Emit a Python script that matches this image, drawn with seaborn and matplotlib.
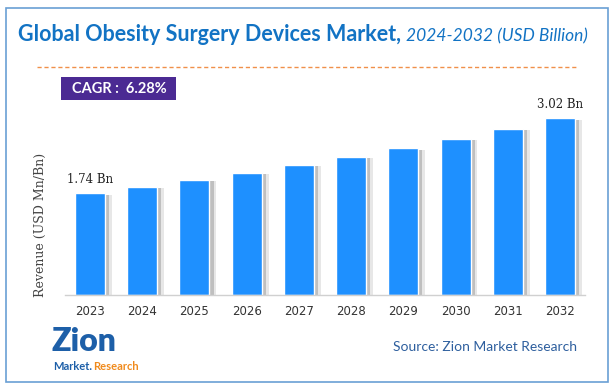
import matplotlib
matplotlib.use("Agg")
import matplotlib.pyplot as plt
import matplotlib.patheffects as pe
from matplotlib.patches import Rectangle
import seaborn as sns
import pandas as pd

years = ["2023", "2024", "2025", "2026", "2027", "2028", "2029", "2030", "2031", "2032"]
revenue = [1.74, 1.85, 1.97, 2.09, 2.23, 2.36, 2.51, 2.67, 2.84, 3.02]
first_label = "1.74 Bn"
last_label = "3.02 Bn"
cagr_text = "CAGR :  6.28%"

sns.set_theme(style="white")
plt.rcParams['font.family'] = ['DejaVu Sans']

W, H = 615, 389
fig = plt.figure(figsize=(W / 100, H / 100), dpi=100)
fig.patch.set_facecolor("white")

# outer border
fig.add_artist(Rectangle((6 / W, 1 - 382 / H), 602 / W, 374 / H, transform=fig.transFigure,
                         fill=False, edgecolor="#6a9fd4", linewidth=1.2))

# title
t1 = fig.text(18 / W, 1 - 41 / H, "Global Obesity Surgery Devices Market,", fontsize=15.5,
              fontweight="bold", color="#1273c4", family="Lato", va="baseline")
fig.canvas.draw()
bb = t1.get_window_extent()
fig.text(bb.x1 / W + 5 / W, 1 - 41 / H, "2024-2032 (USD Billion)", fontsize=12.5,
         fontstyle="italic", color="#1273c4", family="Lato", va="baseline")

# dashed line
fig.add_artist(plt.Line2D([37 / W, 577 / W], [1 - 67 / H, 1 - 67 / H], transform=fig.transFigure,
                          color="#f0904a", linestyle=(0, (3, 2)), linewidth=1))

# CAGR box
fig.add_artist(Rectangle((61 / W, 1 - 100 / H), 115 / W, 23 / H, transform=fig.transFigure,
                         facecolor="#4b2a93", edgecolor="none"))
fig.text(72 / W, 1 - 89 / H, cagr_text, fontsize=10.5, fontweight="bold", color="white",
         family="Lato", va="center")

# axes
ax_left, ax_right = 65, 585
ax_bottom, ax_top = 295, 102
ax = fig.add_axes([ax_left / W, 1 - ax_bottom / H, (ax_right - ax_left) / W, (ax_bottom - ax_top) / H])
df = pd.DataFrame({"year": years, "revenue": revenue})
sns.barplot(data=df, x="year", y="revenue", color="#1e90ff", saturation=1, width=0.575, ax=ax)
for p in ax.patches:
    p.set_path_effects([
        pe.SimplePatchShadow(offset=(5, -1), shadow_rgbFace="#bbbbbb", alpha=0.35),
        pe.SimplePatchShadow(offset=(3, -1), shadow_rgbFace="#999999", alpha=0.5),
        pe.Normal()])
ax.set_xlim(-0.48, 9.48)
ax.set_ylim(0, 3.3)
ax.set_xlabel("")
ax.set_ylabel("")
ax.set_yticks([])
for s in ["top", "right", "left"]:
    ax.spines[s].set_visible(False)
ax.spines["bottom"].set_color("#d0d0d0")
ax.spines["bottom"].set_linewidth(1)
ax.tick_params(axis="x", length=0, pad=7, labelsize=8.5, labelcolor="#333333")
ax.set_facecolor("none")

ax.annotate(first_label, (0, revenue[0]), xytext=(0, 5), textcoords="offset points",
            ha="center", va="bottom", fontsize=8.5, family="DejaVu Serif", color="#222222")
ax.annotate(last_label, (len(years) - 1, revenue[-1]), xytext=(0, 5), textcoords="offset points",
            ha="center", va="bottom", fontsize=8.5, family="DejaVu Serif", color="#222222")

fig.text(40 / W, 1 - 225 / H, "Revenue (USD Mn/Bn)", rotation=90, fontsize=9,
         family="DejaVu Serif", color="#444444", ha="center", va="center")

# logo approximation
fig.text(52 / W, 1 - 351 / H, "Zion", fontsize=23, fontweight="heavy", color="#1d5fa8",
         family="Lato", va="baseline")
m = fig.text(53 / W, 1 - 370 / H, "Market.", fontsize=8, fontweight="bold", color="#1d5fa8",
             family="Lato", va="baseline")
fig.canvas.draw()
mb = m.get_window_extent()
fig.text(mb.x1 / W + 1 / W, 1 - 370 / H, "Research", fontsize=8, fontweight="bold",
         color="#f08a1c", family="Lato", va="baseline")

# source
fig.text(577 / W, 1 - 347 / H, "Source: Zion Market Research", fontsize=10, color="#2e5f9e",
         family="Lato", ha="right", va="center")

fig.savefig("out.png", dpi=100, facecolor="white")
